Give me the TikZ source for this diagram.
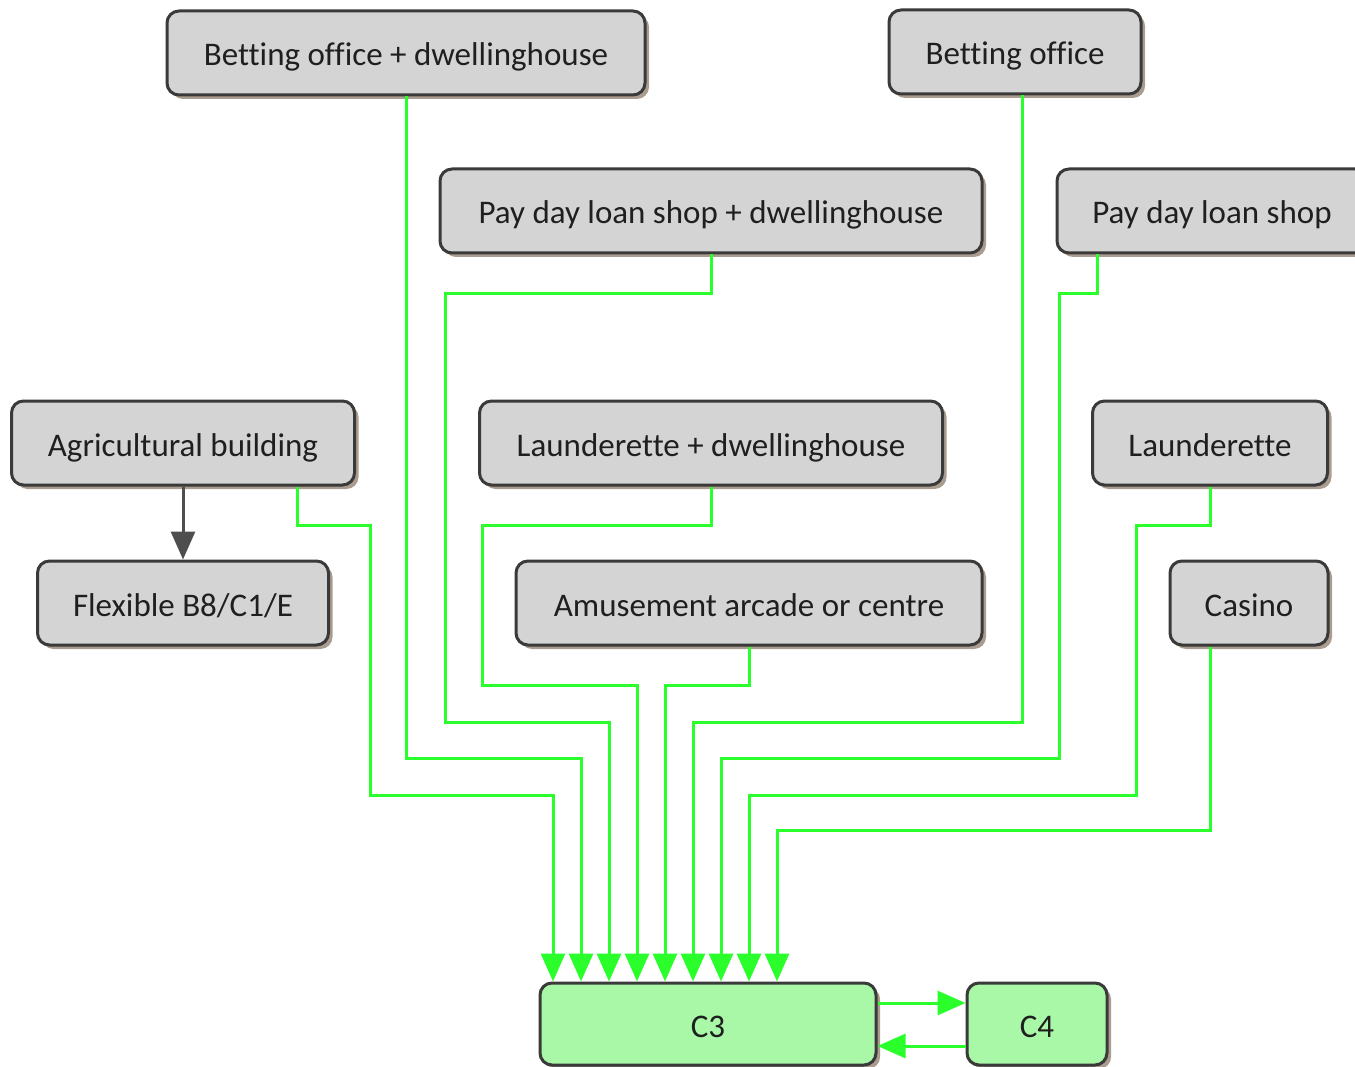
\documentclass[tikz,border=0pt]{standalone}
\usepackage{fontspec}
\setmainfont{Carlito}[Ligatures=NoCommon]
\usetikzlibrary{arrows.meta,shadows}
\definecolor{edge}{HTML}{3A3A3A}
\definecolor{boxgray}{HTML}{D4D4D4}
\definecolor{usegreen}{HTML}{A8F8A8}
\definecolor{route}{HTML}{2BFF2B}
\definecolor{ink}{HTML}{1F1F1F}
\begin{document}
\begin{tikzpicture}[x=1pt, y=-1pt, every node/.style={font=\fontsize{33}{40}\selectfont,text=ink,align=center,text height=31pt,text depth=5pt}, box/.style={draw=edge,line width=3pt,rounded corners=12pt,minimum height=84pt,inner sep=0pt,fill=boxgray,drop shadow={shadow xshift=4pt,shadow yshift=-4pt,fill=black!55!brown,opacity=0.5}}, cls/.style={box,fill=usegreen,minimum height=82pt}, link/.style={-{Triangle[length=28pt,width=24pt]},line width=3pt,draw=route}, grayarr/.style={-{Triangle[length=28pt,width=24pt]},line width=3pt,draw=edge!90}]
\useasboundingbox (0,0) rectangle (1355,1067);
\node[box,minimum width=478pt] (betdw) at (406,53) {Betting office + dwellinghouse};
\node[box,minimum width=252pt] (bet) at (1015,52) {Betting office};
\node[box,minimum width=542pt] (paydw) at (711,211) {Pay day loan shop + dwellinghouse};
\node[box,minimum width=310pt] (pay) at (1212,211) {Pay day loan shop};
\node[box,minimum width=343pt] (agri) at (183,443) {Agricultural building};
\node[box,minimum width=291pt] (flex) at (183,603) {Flexible B8/C1/E};
\node[box,minimum width=463pt] (laundw) at (711,443) {Launderette + dwellinghouse};
\node[box,minimum width=235pt] (laun) at (1210,443) {Launderette};
\node[box,minimum width=466pt] (arcade) at (749,603) {Amusement arcade or centre};
\node[box,minimum width=158pt] (casino) at (1249,603) {Casino};
\node[cls,minimum width=336pt] (c3) at (708,1024) {C3};
\node[cls,minimum width=140pt] (c4) at (1037,1024) {C4};
% routes into C3
\draw[link] ([xshift=114pt]agri.south) |- (370,525) |- (553,795) -- ([xshift=-155pt]c3.north);
\draw[link] (betdw.south) |- (581,758) -- ([xshift=-127pt]c3.north);
\draw[link] (paydw.south) |- (445,294) |- (609,722) -- ([xshift=-99pt]c3.north);
\draw[link] (laundw.south) |- (482,525) |- (637,685) -- ([xshift=-71pt]c3.north);
\draw[link] (arcade.south) |- (665,685) -- ([xshift=-43pt]c3.north);
\draw[link] ([xshift=7pt]bet.south) |- (693,722) -- ([xshift=-15pt]c3.north);
\draw[link] ([xshift=-115pt]pay.south) |- (1059,294) |- (721,758) -- ([xshift=13pt]c3.north);
\draw[link] (laun.south) |- (1136,525) |- (749,795) -- ([xshift=41pt]c3.north);
\draw[link] ([xshift=-39pt]casino.south) |- (777,830) -- ([xshift=69pt]c3.north);
% C3 and C4
\draw[link] ([yshift=21pt]c3.east) -- ([yshift=21pt]c4.west);
\draw[link] ([yshift=-22pt]c4.west) -- ([yshift=-22pt]c3.east);
\draw[grayarr] (agri) -- (flex);
\end{tikzpicture}
\end{document}
